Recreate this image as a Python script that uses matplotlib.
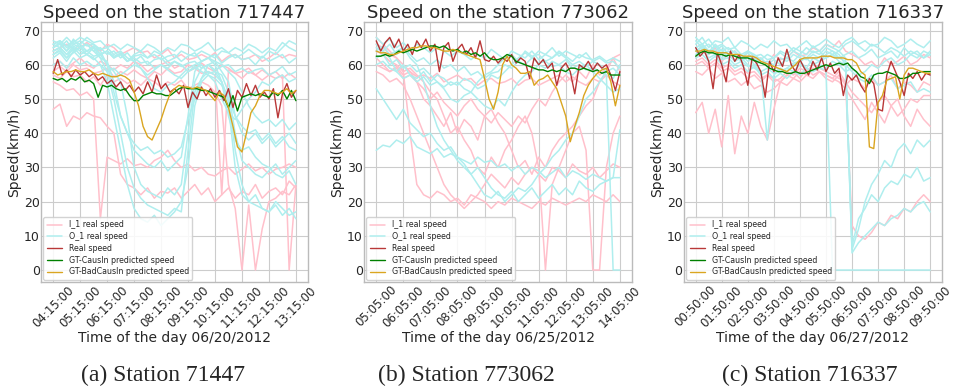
import numpy as np
import matplotlib
matplotlib.use('Agg')
import matplotlib.pyplot as plt

plt.style.use('seaborn-v0_8-whitegrid')
plt.rcParams['font.family'] = ['DejaVu Sans']

# ---- station 717447, 06/20/2012 ----
a_ticks = [f'{h:02d}:15:00' for h in range(4, 14)]
a_real = [57.5, 61.5, 57, 58.5, 56.5, 58.5, 57, 58, 56.5, 57.5,
          55.5, 56.5, 54.5, 55.5, 53.5, 55, 52.5, 54, 52, 53.5,
          51.5, 55, 52, 57, 53, 54.5, 52, 53, 51.5, 54,
          47.5, 52, 50, 53.5, 51, 53, 50.5, 52.5, 49.5, 53,
          47.5, 52.5, 50.5, 54.5, 51, 54, 50.5, 52, 50, 53,
          44.5, 51.5, 54.5, 50.5, 52.5]
a_causin = [56, 55.5, 56, 55, 56, 55.5, 56.5, 55, 55.5, 54.5,
            50.5, 54, 53.5, 54, 53, 52.5, 53, 51, 49.5, 49.5,
            51, 51.5, 52, 51.5, 51.5, 51, 51, 52, 53, 53.5,
            53, 53, 53, 52.5, 52.5, 52, 51.5, 51, 50.5, 47.5,
            51, 46.5, 50.5, 51, 51.5, 51, 51.5, 51, 50.5, 52,
            51, 52.5, 50, 52.5, 49.5]
a_badcausin = [58, 57, 57.5, 58, 58, 58.5, 58, 58, 58.5, 57.5,
               57, 57.5, 57, 56.5, 56.5, 57, 56.5, 55.5, 52, 48,
               42, 39, 38, 41, 44, 48, 51.5, 53, 54, 53.5,
               53.5, 53, 53.5, 53, 52.5, 51, 49.5, 52, 51, 47.5,
               42, 36, 34.5, 40, 46, 48, 51, 52.5, 52.5, 52,
               51.5, 52, 53, 51.5, 52.5]
a_out1 = [66, 67, 65.5, 67, 66, 68, 66.5, 67, 65, 66, 64.5, 66, 65, 64, 66, 65, 63.5, 65, 64, 66,
          65.5, 64, 65, 66.5, 64, 65, 63.5, 65, 64, 66, 65, 63.5, 65, 64, 66.5, 65, 64]
a_out2 = [63, 64.5, 62, 65, 63, 64, 65.5, 63, 64, 62, 63.5, 61, 63, 64, 62, 63, 61.5, 62.5, 63, 61,
          62.5, 63.5, 61, 62, 63, 60.5, 62, 63, 61.5, 62, 60, 62.5, 61, 62, 63, 60.5, 62]
a_out3 = [65, 66, 64, 67.5, 65, 66, 64, 65, 63, 64, 62, 63.5, 61, 62.5, 60, 61.5, 62, 60, 61, 59.5,
          60.5, 61, 59, 60, 58.5, 59.5, 60, 58, 59, 57.5, 58.5, 59, 57, 58, 59.5, 57, 58]
a_out4 = [64, 65, 63, 64.5, 66, 64, 65, 63, 64, 62.5, 63, 61, 62, 60.5, 61, 59, 60, 58.5, 57, 56,
          58, 59.5, 58, 57, 55, 50, 46, 44, 47, 50, 52, 55, 54, 56, 57, 55, 56]
a_out5 = [67, 66, 68, 66, 67, 65.5, 66, 64, 60, 52, 45, 40, 35, 33, 31, 30, 32, 29, 31, 33,
          45, 58, 61, 62, 60, 55, 45, 38, 35, 36, 33, 31, 30, 28, 27, 29, 25]
a_out6 = [65, 66.5, 64, 66, 65, 66, 64, 62, 58, 50, 40, 30, 24, 21, 19, 18, 17, 16, 18, 17,
          35, 52, 56, 58, 57, 55, 48, 30, 22, 20, 19, 18, 17, 19, 16, 18, 15]
a_out7 = [64, 65, 63, 65.5, 64, 63, 65, 62, 61, 55, 45, 40, 37, 35, 36, 34, 35, 33, 34, 36,
          44, 50, 56, 60, 61, 58, 55, 45, 40, 38, 40, 37, 39, 36, 38, 40, 37]
a_out8 = [62, 63.5, 61, 64, 62, 63, 61.5, 63, 60, 58, 55, 45, 30, 25, 23, 22, 21, 24, 22, 25,
          40, 55, 59, 60, 58, 57, 52, 40, 32, 30, 28, 27, 29, 31, 28, 30, 32]
a_out9 = [60, 61, 59, 62, 60, 61, 59.5, 60, 58, 59, 57, 58.5, 60, 59, 57, 58.5, 60, 59, 61, 60,
          58, 59, 60, 57.5, 58, 55, 50, 45, 42, 40, 41, 38, 40, 37, 39, 36, 35]
a_out10 = [66, 67, 65, 66.5, 68, 67, 66, 64.5, 65, 63, 64, 62, 61, 59, 56, 53, 52, 54, 55, 57,
           59, 60, 61, 62, 61, 60, 58, 56, 52, 48, 45, 43, 44, 42, 44, 41, 43]
a_out11 = [63, 64, 62, 63.5, 65, 64, 62.5, 63, 64, 62, 63, 61, 62.5, 63, 62, 64, 63, 61, 62, 64,
           63, 62.5, 64, 63, 62, 64, 63.5, 62, 63, 64.5, 63, 62, 64, 63, 65, 67, 66]
a_out12 = [66, 65, 67, 64, 65, 63, 62, 60, 55, 45, 35, 25, 18, 15, 14, 16, 13, 15, 17, 20,
           30, 48, 55, 57, 56, 54, 50, 35, 25, 20, 22, 18, 17, 20, 18, 16, 17]
a_in1 = [64, 65, 66, 64.5, 65, 66.5, 65, 64, 66, 65, 63, 64, 65, 63.5, 64, 62, 63, 64.5, 62, 63,
         61.5, 62, 63, 62, 63.5, 61, 62.5, 63, 61.5, 62, 63, 61, 62, 63.5, 62, 63, 62.5]
a_in2 = [58, 59.5, 58, 60, 58.5, 59, 57.5, 58, 59, 56.5, 58, 57, 58.5, 57, 56, 58, 57, 59, 57.5, 58,
         60, 59, 57.5, 58, 57, 22, 58.5, 57.5, 56, 58, 57, 55.5, 57, 58, 56, 57.5, 56]
a_in3 = [55, 54, 52.5, 53, 51, 52, 50, 15, 33, 32, 31, 32.5, 30.5, 31, 30, 32, 33, 35, 32, 30,
         31, 29, 30, 28, 27.5, 29, 30, 28, 29.5, 31, 29, 30, 28, 29.5, 30, 31, 30]
a_in4 = [47, 48.5, 42, 45, 44, 46, 45, 44.5, 42, 40, 28, 25, 24, 22, 24, 21, 23, 22.5, 24, 21,
         23, 25, 22, 24, 20, 22, 24, 21, 23, 22, 25, 21, 23, 24, 22, 26, 24]
a_in5 = [57, 56, 58, 56.5, 57, 55, 56.5, 54, 57, 55, 56, 54.5, 55.5, 54, 56, 55, 53.5, 55, 54, 55.5,
         53, 54, 55, 54, 52, 48, 25, 18, 0, 19, 0, 12, 20, 21, 23, 22, 25]
a_in6 = [60, 61, 59, 60.5, 62, 60, 59, 61, 60, 58.5, 60, 59, 61, 60, 58, 59.5, 60, 61, 59, 60,
         58, 59, 60.5, 59, 58, 60, 59, 57.5, 58, 59, 57, 58.5, 57, 56, 57, 0, 25]

# ---- station 773062, 06/25/2012 ----
b_ticks = [f'{h:02d}:05:00' for h in range(5, 15)]
b_real = [67, 64, 66.5, 68, 65, 67.5, 64, 66, 63, 67,
          65, 67.5, 64, 66, 58, 65, 66.5, 61, 64.5, 66,
          63, 65, 62, 67, 61.5, 61, 62.5, 60.5, 62, 61,
          63, 60.5, 62, 61, 56, 62, 60, 61.5, 59, 60.5,
          54, 59, 60.5, 58, 51.5, 60, 59, 61, 58.5, 60.5,
          59, 60, 57, 52.5, 58]
b_causin = [62.5, 62.5, 63, 62.5, 63, 64, 63.5, 64, 64.5, 64,
            64.5, 65, 65.5, 65.5, 65, 65.5, 64.5, 64, 64.5, 63.5,
            64, 63, 63.5, 62.5, 63.5, 62, 61.5, 61.5, 62, 63,
            62.5, 61, 60.5, 60, 59.5, 59, 58.5, 58.5, 58, 58.5,
            58, 58.5, 58, 59, 59, 58.5, 59, 58.5, 58, 58.5,
            57.5, 58, 57, 57, 57]
b_badcausin = [64, 63.5, 63.5, 63, 63, 63.5, 64, 64.5, 65, 65,
               65.5, 65.5, 65, 65, 64.5, 64, 64, 64.5, 64, 63.5,
               63, 62.5, 62, 61.5, 56, 50, 47, 52, 60, 62.5,
               60, 59, 57.5, 57.5, 58, 54, 55.5, 56, 57, 55,
               53, 49, 45, 37.5, 42, 46, 51, 54, 56, 57.5,
               58.5, 59, 55, 48, 54]
b_out1 = [68, 66, 67.5, 65, 66.5, 64, 66, 65, 63.5, 65, 64, 62.5, 64, 63, 61.5, 63, 62, 64.5, 63, 61.5,
          64, 63, 62, 64, 61.5, 63, 62, 64, 62.5, 61, 63, 62, 61.5, 62.5, 61, 62, 61]
b_out2 = [66, 64, 62, 58, 56, 57, 55, 56.5, 54, 55, 53.5, 55, 54, 56, 55, 53, 54, 57, 56, 58,
          60, 62, 63.5, 62, 64, 63, 65, 62.5, 64, 63, 62, 63.5, 61, 62, 60.5, 61, 59]
b_out3 = [64, 65.5, 63, 64, 65, 63, 61, 62, 60, 61.5, 59, 60, 58, 59.5, 57, 58, 56, 57.5, 58, 60,
          59, 61, 60, 62, 60.5, 61, 59.5, 60, 61.5, 59, 60, 58.5, 59, 58, 57, 0, 0]
b_out4 = [53, 50, 47, 44, 47, 43, 41, 39, 40, 37, 35, 36, 33, 31, 28, 30, 27, 24, 22, 21,
          23, 20, 22, 24, 21, 23, 25, 22, 24, 22, 26, 24, 23, 25, 26, 27, 41]
b_out5 = [35, 36.5, 36, 38, 37, 39, 36, 35, 34, 35.5, 33, 34, 33, 32, 31, 33, 31.5, 32, 30, 31,
          29, 30.5, 28, 30, 29, 27, 28.5, 30, 27, 29, 28, 26.5, 28, 27, 26, 27, 27]
b_out6 = [62, 63, 60, 61.5, 59, 60, 58, 59, 57, 55, 53, 50, 49, 51, 52, 55, 57, 58, 60, 62,
          63, 61, 64, 62.5, 63, 61, 62, 63.5, 62, 60, 61, 59.5, 61, 60, 58, 59, 57]
b_out7 = [65, 64, 66, 63, 65, 62, 60, 55, 48, 42, 38, 35, 32, 30, 28, 25, 22, 21, 23, 20,
          22, 24, 23, 25, 28, 30, 33, 35, 38, 40, 45, 50, 52, 55, 58, 56, 60]
b_out8 = [60, 61, 59, 58, 60, 57, 56, 58, 55, 57, 56, 54, 55, 53, 52, 50, 48, 47, 50, 48,
          52, 55, 57, 58, 60, 59, 61, 60, 58, 57, 59, 60, 58, 56, 54, 52, 53]
b_in1 = [60, 59, 58, 59.5, 57, 58, 56.5, 57, 56, 57.5, 55, 56, 57, 55.5, 56, 54, 55.5, 56, 54.5, 55,
         56, 54, 55.5, 56, 54, 55, 56, 57, 55, 56.5, 55, 54, 56, 55, 57, 55, 54]
b_in2 = [66, 65, 63, 62, 58, 40, 25, 22, 21, 23, 22, 20, 21, 19, 22, 21, 20, 18, 20, 19,
         21, 20, 19, 18, 20, 19, 21, 20, 19, 20, 21, 20, 22, 21, 20, 22, 20]
b_in3 = [68, 66, 64, 62, 60, 58, 55, 50, 48, 45, 42, 46, 40, 44, 42, 38, 45, 47, 43, 40,
         35, 30, 32, 28, 33, 30, 35, 38, 40, 42, 45, 48, 50, 55, 58, 62, 63]
b_in4 = [64, 63, 61, 60, 58, 59, 57, 55, 52, 50, 45, 40, 42, 38, 35, 30, 28, 33, 30, 35,
         38, 42, 45, 40, 30, 0, 25, 30, 35, 40, 42, 35, 0, 0, 30, 40, 45]
b_in5 = [58, 57, 55, 56, 54, 50, 45, 40, 35, 30, 25, 22, 20, 18, 20, 22, 25, 28, 26, 24,
         27, 25, 28, 30, 28, 26, 30, 29, 27, 31, 29, 28, 30, 27, 29, 31, 30]
b_in6 = [62, 60, 58, 59, 56, 57, 55, 53, 50, 52, 49, 47, 45, 48, 50, 47, 45, 43, 46, 44,
         42, 45, 43, 47, 50, 48, 52, 55, 57, 55, 58, 56, 60, 57, 59, 62, 58]

# ---- station 716337, 06/27/2012 ----
c_ticks = [f'{h:02d}:50:00' for h in range(0, 10)]
c_real = [65, 62.5, 64, 61, 53, 63.5, 60, 55, 64, 61,
          63, 59.5, 54, 62, 60.5, 58, 50.5, 61, 58, 62,
          59.5, 64.5, 60, 58, 61.5, 59, 57, 61, 58.5, 62,
          58, 60.5, 57.5, 59, 51, 57, 55.5, 57, 54, 52,
          56, 54.5, 47, 46.5, 57, 61, 58, 55, 51, 57.5,
          56, 58, 55.5, 57.5, 57]
c_causin = [62.5, 63.5, 64, 63.5, 63.5, 63, 63, 62.5, 63, 62.5,
            62, 62, 62, 61.5, 61, 60.5, 60, 59, 58.5, 58,
            58, 57.5, 57.5, 58, 57.5, 57.5, 58, 58.5, 59, 59.5,
            60, 59.5, 60, 60.5, 60, 60.5, 59, 58, 56.5, 56,
            54.5, 57, 57.5, 57.5, 58, 57.5, 57, 56, 56, 56.5,
            57.5, 57.5, 58, 58, 58]
c_badcausin = [64, 64, 64.5, 64, 64, 63.5, 63.5, 63.5, 63, 63,
               63, 62.5, 62.5, 62.5, 62, 61, 60.5, 60, 59.5, 59,
               58.5, 58, 59, 60, 61.5, 62, 62, 62, 62, 62.5,
               62.5, 62.5, 62, 62, 62, 61.5, 61.5, 60.5, 58, 57,
               36, 35.5, 49, 51, 55.5, 56, 56.5, 50, 57, 59,
               59, 58.5, 58, 57.5, 57.5]
c_out1 = [66, 68, 65, 67, 66.5, 68, 65, 67, 66, 64.5, 66, 65, 67, 65.5, 66, 64, 65.5, 67, 65, 66,
          67.5, 66, 65, 67, 68, 66, 67, 65.5, 66, 68, 67, 65, 66, 67.5, 66, 65, 67]
c_out2 = [64, 65.5, 63, 66, 64, 65, 63.5, 62, 64, 63, 61.5, 63, 62, 64, 63, 65, 64, 63, 65.5, 64,
          66, 65, 64, 66, 67, 65.5, 64, 66, 65, 63.5, 65, 64, 62.5, 64, 63, 62, 64]
c_out3 = [68, 66, 67.5, 65, 66, 64.5, 65, 63, 64, 62.5, 63, 61.5, 62, 63.5, 62, 64, 63, 65, 63.5, 64,
          62, 63, 64, 62, 6, 12, 20, 25, 28, 32, 30, 35, 37, 34, 38, 36, 38]
c_out4 = [65, 66, 64, 65.5, 63, 64, 62.5, 63, 61, 62, 60.5, 61, 60, 62, 61, 63, 62, 61.5, 63, 62,
          64, 63, 62, 61, 5, 8, 10, 12, 14, 13, 15, 16, 18, 17, 19, 20, 17]
c_out5 = [67, 65, 66, 64, 65.5, 63, 64, 62, 63.5, 61, 62, 60, 61.5, 60, 62, 61, 63, 62, 64, 63,
          65, 64, 63, 60, 7, 15, 18, 22, 20, 24, 26, 25, 28, 27, 30, 26, 27]
c_out6 = [63, 64.5, 62, 63, 61.5, 62, 60, 61, 59.5, 60, 58, 59, 57.5, 58, 59, 58, 60, 59, 58, 59,
          58.5, 0, 0, 0, 0, 0, 0, 0, 0, 0, 0, 0, 0, 0, 0, 0, 0]
c_out7 = [65, 66, 64, 63, 64.5, 62, 63, 61, 62.5, 60, 61, 59.5, 60, 58, 59, 60.5, 61, 62, 60, 61,
          62, 63, 61, 60, 58, 56, 55, 57, 54, 55, 56, 53, 54, 55, 52, 53, 52]
c_out8 = [64, 65, 63.5, 64, 62, 63, 61, 62, 60, 59, 58, 38, 57, 59, 58, 60, 61, 59, 62, 61,
          63, 64, 62, 63, 64, 62, 63, 64.5, 62, 63, 64, 62, 65, 63, 64, 62, 63]
c_out9 = [62, 63, 61, 62.5, 60, 61, 59, 60, 58, 59.5, 57, 58, 56, 57.5, 56, 58, 57, 59, 58, 60,
          59, 61, 60, 58, 59, 57, 58, 60, 59, 61, 62, 60, 61, 63, 62, 64, 63]
c_in1 = [46, 49, 40, 47, 36, 51, 34, 45, 40, 49, 42, 38, 47, 55, 57, 58, 56, 59, 57, 58,
         56, 55, 57, 54, 56, 55, 53, 56, 54, 55, 57, 53, 55, 54, 52, 55, 54]
c_in2 = [62, 64, 63, 65, 61, 63, 64, 62, 63.5, 61, 62, 60, 63, 61.5, 62, 64, 62.5, 63, 65, 64,
         66, 65, 67, 64, 63, 62, 60, 61, 59, 62, 60, 61, 62.5, 60, 61, 63, 62]
c_in3 = [60, 61, 59, 60.5, 58, 59, 57, 58, 56, 57, 55, 57, 56, 55, 57, 56, 58, 57, 59, 58,
         57, 56, 58, 55, 52, 50, 48, 46, 49, 51, 48, 45, 47, 50, 49, 51, 51]
c_in4 = [61, 62, 60, 61.5, 59, 60, 58, 59, 57.5, 58, 56, 57, 55, 56, 58, 57, 59, 58, 60, 59,
         58, 57, 56, 55, 13, 10, 9, 11, 14, 13, 16, 15, 18, 17, 20, 22, 20]
c_in5 = [58, 57, 59, 56, 57.5, 55, 56, 54, 55.5, 53, 54, 52, 53, 55, 54, 56, 55, 57, 56, 58,
         57, 56, 55, 53, 50, 47, 44, 49, 46, 43, 48, 50, 45, 42, 47, 44, 42]


def draw_station(ax, station, date, ticks, in_lines, out_lines, real, causin, badcausin):
    # detector series are sampled every 15 min, predictions every 10 min
    xs_bg = np.arange(0, 109, 3)
    xs = np.arange(0, 109, 2)
    for k, s in enumerate(in_lines):
        ax.plot(xs_bg, s, color='pink', lw=1.1, label='I_1 real speed' if k == 0 else None)
    for k, s in enumerate(out_lines):
        ax.plot(xs_bg, s, color='paleturquoise', lw=1.1, label='O_1 real speed' if k == 0 else None)
    ax.plot(xs, real, color='firebrick', lw=1.0, alpha=0.9, label='Real speed')
    ax.plot(xs, causin, color='green', lw=1.0, label='GT-CausIn predicted speed')
    ax.plot(xs, badcausin, color='goldenrod', lw=1.0, label='GT-BadCausIn predicted speed')

    ax.set_ylim(-3.5, 72.5)
    ax.set_yticks(range(0, 71, 10))
    ax.set_xticks(range(0, 109, 12))
    ax.set_xticklabels(ticks, rotation=45)
    ax.tick_params(axis='y', labelsize=9, pad=1)
    ax.tick_params(axis='x', labelsize=8.5, pad=1)
    ax.set_title('Speed on the station %s' % station, fontsize=13, pad=2)
    ax.set_ylabel('Speed(km/h)', fontsize=10, labelpad=2)
    ax.set_xlabel('Time of the day %s' % date, fontsize=10, labelpad=1)
    ax.legend(loc='lower left', fontsize=5.7, frameon=True, framealpha=0.85,
              labelspacing=0.35, borderaxespad=0.3)
    for sp in ax.spines.values():
        sp.set_color('#bbbbbb')


fig = plt.figure(figsize=(9.59, 3.9), dpi=100)
ax_a = fig.add_axes([0.0428, 0.2769, 0.2784, 0.6667])
ax_b = fig.add_axes([0.3796, 0.2769, 0.2795, 0.6667])
ax_c = fig.add_axes([0.7132, 0.2769, 0.2690, 0.6667])

draw_station(ax_a, '717447', '06/20/2012', a_ticks,
             [a_in1, a_in2, a_in3, a_in4, a_in5, a_in6],
             [a_out1, a_out2, a_out3, a_out4, a_out5, a_out6, a_out7, a_out8, a_out9,
              a_out10, a_out11, a_out12],
             a_real, a_causin, a_badcausin)
draw_station(ax_b, '773062', '06/25/2012', b_ticks,
             [b_in1, b_in2, b_in3, b_in4, b_in5, b_in6],
             [b_out1, b_out2, b_out3, b_out4, b_out5, b_out6, b_out7, b_out8],
             b_real, b_causin, b_badcausin)
draw_station(ax_c, '716337', '06/27/2012', c_ticks,
             [c_in1, c_in2, c_in3, c_in4, c_in5],
             [c_out1, c_out2, c_out3, c_out4, c_out5, c_out6, c_out7, c_out8, c_out9],
             c_real, c_causin, c_badcausin)

cap = dict(family='Liberation Serif', fontsize=17, ha='center', va='center')
fig.text(163 / 959, 0.038, '(a) Station 71447', **cap)
fig.text(466 / 959, 0.038, '(b) Station 773062', **cap)
fig.text(810 / 959, 0.038, '(c) Station 716337', **cap)

fig.savefig('out.png', dpi=100)
